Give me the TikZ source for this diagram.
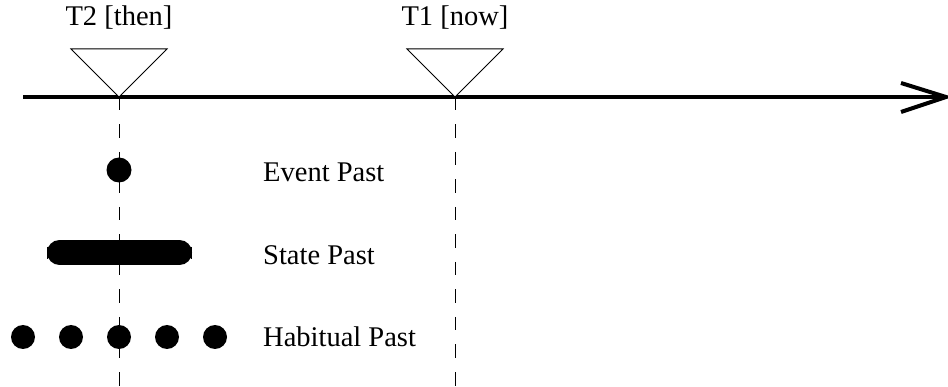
\documentclass[tikz,border=0pt]{standalone}
\usepackage{fontspec}
\setmainfont{Liberation Serif}
\begin{document}
\begin{tikzpicture}[x=1pt,y=-1pt,
  lbl/.style={inner sep=0pt,font=\fontsize{28.5}{30}\selectfont},
  marker/.style={draw=black,line width=1pt,fill=white},
  guide/.style={draw=black,line width=1pt,dash pattern=on 13.5pt off 14pt},
  axis/.style={line width=4.5pt},
  dot/.style={fill=black}]
\useasboundingbox (0,0) rectangle (948,387);
% time axis
\coordinate (axL) at (23,97);
\coordinate (axR) at (946,97);
\coordinate (hdT) at (901,83);
\coordinate (hdB) at (901,112);
\draw[axis] (axL) -- (axR);
\draw[line width=4pt,line join=miter] (hdT) -- (axR) -- (hdB);
% reference points
\coordinate (t2) at (119,97);
\coordinate (t1) at (455,97);
\coordinate (t2e) at (119,387);
\coordinate (t1e) at (455,387);
\draw[guide] (t2) -- (t2e);
\draw[guide] (t1) -- (t1e);
\draw[marker] (71,49) -- (167,49) -- (t2) -- cycle;
\draw[marker] (407,49) -- (503,49) -- (t1) -- cycle;
\node[lbl,anchor=base] (l2) at (119,26) {T2 [then]};
\node[lbl,anchor=base] (l1) at (455,26) {T1 [now]};
% event past
\fill[dot] (119,170) circle (12.5);
\node[lbl,anchor=base west] (ev) at (263,182) {Event Past};
% state past
\draw[line width=25pt,line cap=round] (59.5,252.5) -- (179.5,252.5);
\draw[line width=1pt] (47.5,247) -- (47.5,259);
\draw[line width=1pt] (191.5,247) -- (191.5,259);
\node[lbl,anchor=base west] (st) at (263,264.5) {State Past};
% habitual past
\foreach \hx in {23,71,119,167,215} \fill[dot] (\hx,337) circle (12);
\node[lbl,anchor=base west] (hb) at (263,347) {Habitual Past};
\end{tikzpicture}
\end{document}
